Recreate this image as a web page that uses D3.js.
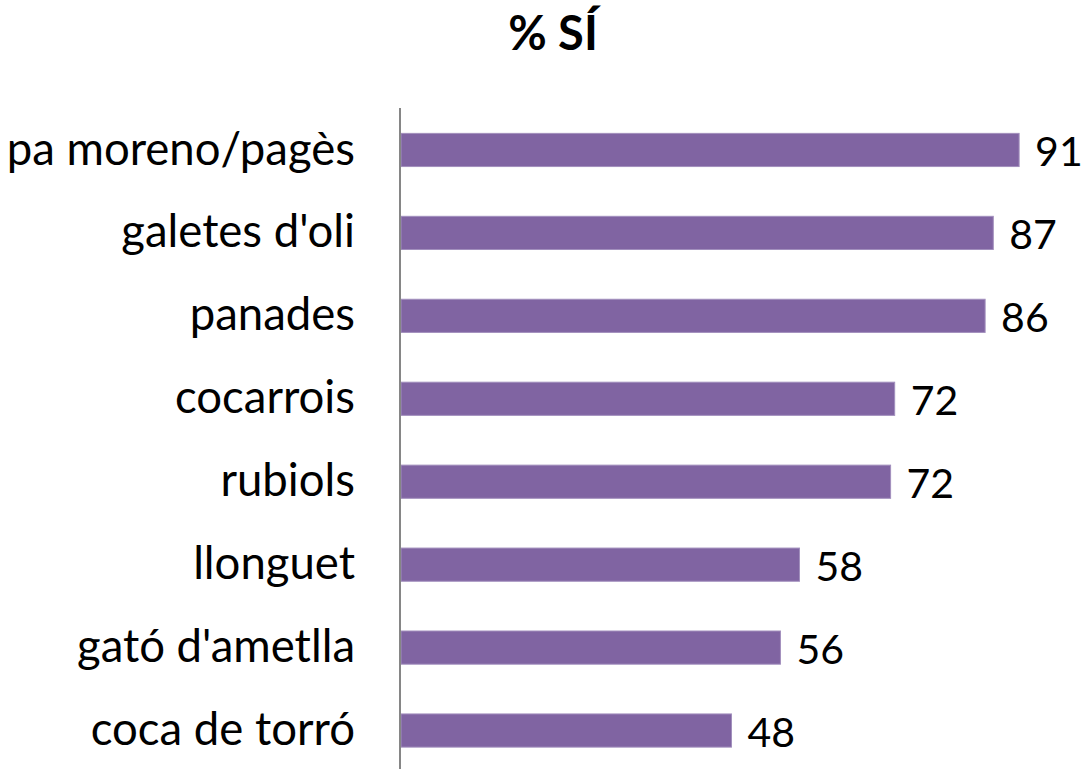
<html>
<script src="https://d3js.org/d3.v7.min.js"></script>
<style>
  body { margin: 0; background: #fff; }
  text { font-family: Lato, "Open Sans", sans-serif; fill: #000; }
</style>
<body>
<svg width="1085" height="769"></svg>
<script>
// data
var categories = ["pa moreno/pagès", "galetes d'oli", "panades", "cocarrois", "rubiols", "llonguet", "gató d'ametlla", "coca de torró"];
var values = [90.9, 87.1, 85.9, 72.6, 72.0, 58.6, 55.8, 48.6];
var valueLabels = ["91", "87", "86", "72", "72", "58", "56", "48"];
var title = "% SÍ";

var svg = d3.select("svg");
var rows = categories.map(function (c, i) { return {cat: c, val: values[i], lab: valueLabels[i]}; });

// scales
var x = d3.scaleLinear().domain([0, 100]).range([401, 1081]);
var y = d3.scaleBand().domain(categories).range([108.5, 772]).paddingInner(0.6).paddingOuter(0.3);

// title
svg.append("text")
  .attr("x", 553).attr("y", 50)
  .attr("text-anchor", "middle")
  .style("font-size", "47px").style("font-weight", "bold")
  .text(title);

// bars
svg.append("g").selectAll("rect")
  .data(rows)
  .enter()
  .append("rect")
    .attr("x", x(0))
    .attr("y", function (d) { return y(d.cat); })
    .attr("width", function (d) { return x(d.val) - x(0); })
    .attr("height", y.bandwidth())
    .attr("fill", "#8064a2")
    .attr("stroke", "#a28fbd")
    .attr("stroke-width", 1);

// value labels
svg.append("g").selectAll("text")
  .data(rows)
  .enter()
  .append("text")
    .attr("x", function (d) { return x(d.val) + 16; })
    .attr("y", function (d) { return y(d.cat) + y.bandwidth() / 2; })
    .attr("dy", "0.4em")
    .style("font-size", "41px")
    .text(function (d) { return d.lab; });

// category axis
var axis = svg.append("g")
  .attr("transform", "translate(400,0)")
  .call(d3.axisLeft(y).tickSize(0).tickPadding(45));
axis.select(".domain").attr("stroke", "#868686").attr("stroke-width", 2)
  .attr("d", "M0,108V772");
axis.selectAll("text")
  .style("font-family", "Lato, 'Open Sans', sans-serif")
  .style("font-size", "45.5px")
  .attr("fill", "#000");
</script>
</body>
</html>
